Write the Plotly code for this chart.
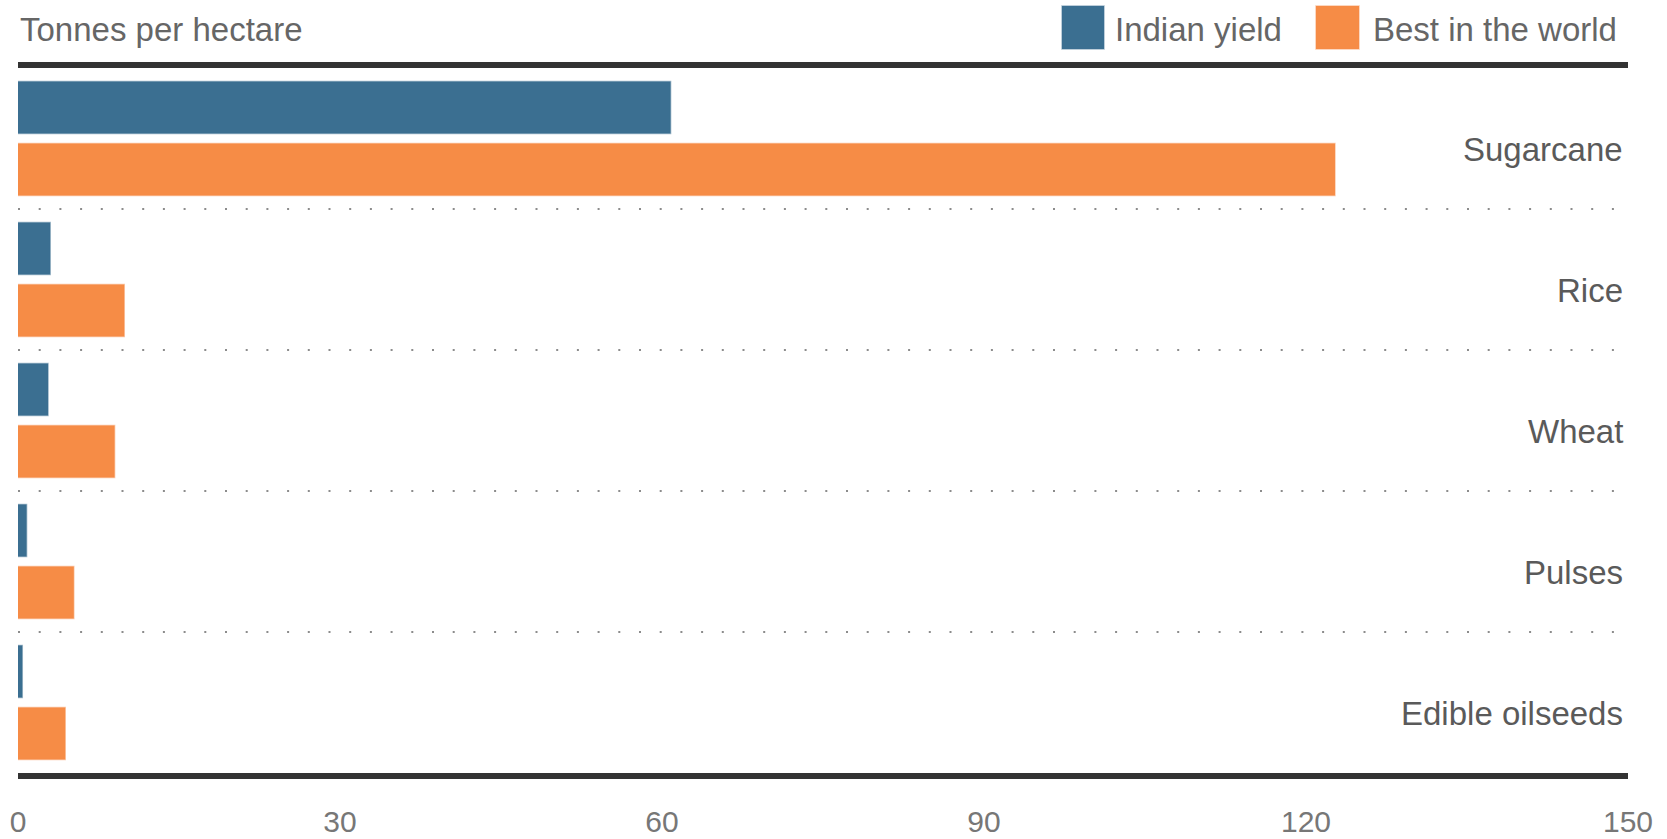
import plotly.graph_objects as go

# ---- data ----
crops = ["Sugarcane", "Rice", "Wheat", "Pulses", "Edible oilseeds"]
indian_yield = [60.8, 3.0, 2.8, 0.8, 0.4]
best_in_world = [122.7, 9.9, 9.0, 5.2, 4.4]
x_ticks = [0, 30, 60, 90, 120, 150]
series_names = ["Indian yield", "Best in the world"]
axis_title = "Tonnes per hectare"

BLUE = "#3b6f91"
ORANGE = "#f68c46"
BLUE_EDGE = "rgba(59,111,145,0.45)"
ORANGE_EDGE = "rgba(246,140,70,0.45)"
FONT = "Liberation Sans, Arial, Helvetica, sans-serif"
TEXT = "#666666"

W, H = 1667, 839
ML, MR, MT, MB = 18, 39, 68, 66
PW = W - ML - MR
PH = H - MT - MB


def px_x(p):
    return (p - ML) / PW


def px_y(p):
    return (H - MB - p) / PH


fig = go.Figure()
fig.add_trace(go.Bar(
    y=crops, x=indian_yield, orientation="h", name=series_names[0],
    marker=dict(color=BLUE, line=dict(color=BLUE_EDGE, width=1.5)),
    hoverinfo="x+y",
))
fig.add_trace(go.Bar(
    y=crops, x=best_in_world, orientation="h", name=series_names[1],
    marker=dict(color=ORANGE, line=dict(color=ORANGE_EDGE, width=1.5)),
    hoverinfo="x+y",
))

shapes = []
# dotted separators between categories
for i in range(len(crops) - 1):
    shapes.append(dict(
        type="line", xref="x", yref="y", x0=0, x1=150, y0=i + 0.5, y1=i + 0.5,
        line=dict(color="#8c8c8c", width=2, dash="2px,18.7px"), layer="below",
    ))

# manual legend squares
legend_boxes = [(1062, 1104, BLUE, BLUE_EDGE), (1316, 1359, ORANGE, ORANGE_EDGE)]
for x0, x1, c, e in legend_boxes:
    shapes.append(dict(
        type="rect", xref="paper", yref="paper",
        x0=px_x(x0), x1=px_x(x1), y0=px_y(49), y1=px_y(6),
        fillcolor=c, line=dict(color=e, width=1.5),
    ))

annotations = []
annotations.append(dict(
    text=axis_title, xref="paper", yref="paper", x=0, y=px_y(29),
    xanchor="left", yanchor="middle", showarrow=False,
    font=dict(family=FONT, size=33, color=TEXT),
))
for name, left in zip(series_names, [1113, 1371]):
    annotations.append(dict(
        text=name, xref="paper", yref="paper", x=px_x(left), y=px_y(29),
        xanchor="left", yanchor="middle", showarrow=False,
        font=dict(family=FONT, size=33, color=TEXT),
    ))
for c in crops:
    annotations.append(dict(
        text=c, xref="paper", yref="y", x=1, y=c, xshift=-3, yshift=-11,
        xanchor="right", yanchor="middle", showarrow=False,
        font=dict(family=FONT, size=33, color="#5a5a5a"),
    ))

fig.update_layout(
    width=W, height=H,
    margin=dict(l=ML, r=MR, t=MT, b=MB, pad=0, autoexpand=False),
    paper_bgcolor="white", plot_bgcolor="white",
    barmode="group", bargap=0.12, bargroupgap=0.16,
    showlegend=False,
    shapes=shapes, annotations=annotations,
    xaxis=dict(
        range=[0, 150], tickvals=x_ticks, ticktext=[str(v) for v in x_ticks],
        showgrid=False, zeroline=False, automargin=False,
        showline=True, mirror=True, linewidth=6, linecolor="#333333",
        ticks="outside", ticklen=17, tickcolor="rgba(0,0,0,0)",
        tickfont=dict(family=FONT, size=30, color="#777777"),
        fixedrange=True,
    ),
    yaxis=dict(
        range=[len(crops) - 0.5, -0.5], showticklabels=False,
        showgrid=False, zeroline=False, showline=False, ticks="",
        automargin=False, fixedrange=True,
    ),
    font=dict(family=FONT),
)

fig.write_html("out.html")
